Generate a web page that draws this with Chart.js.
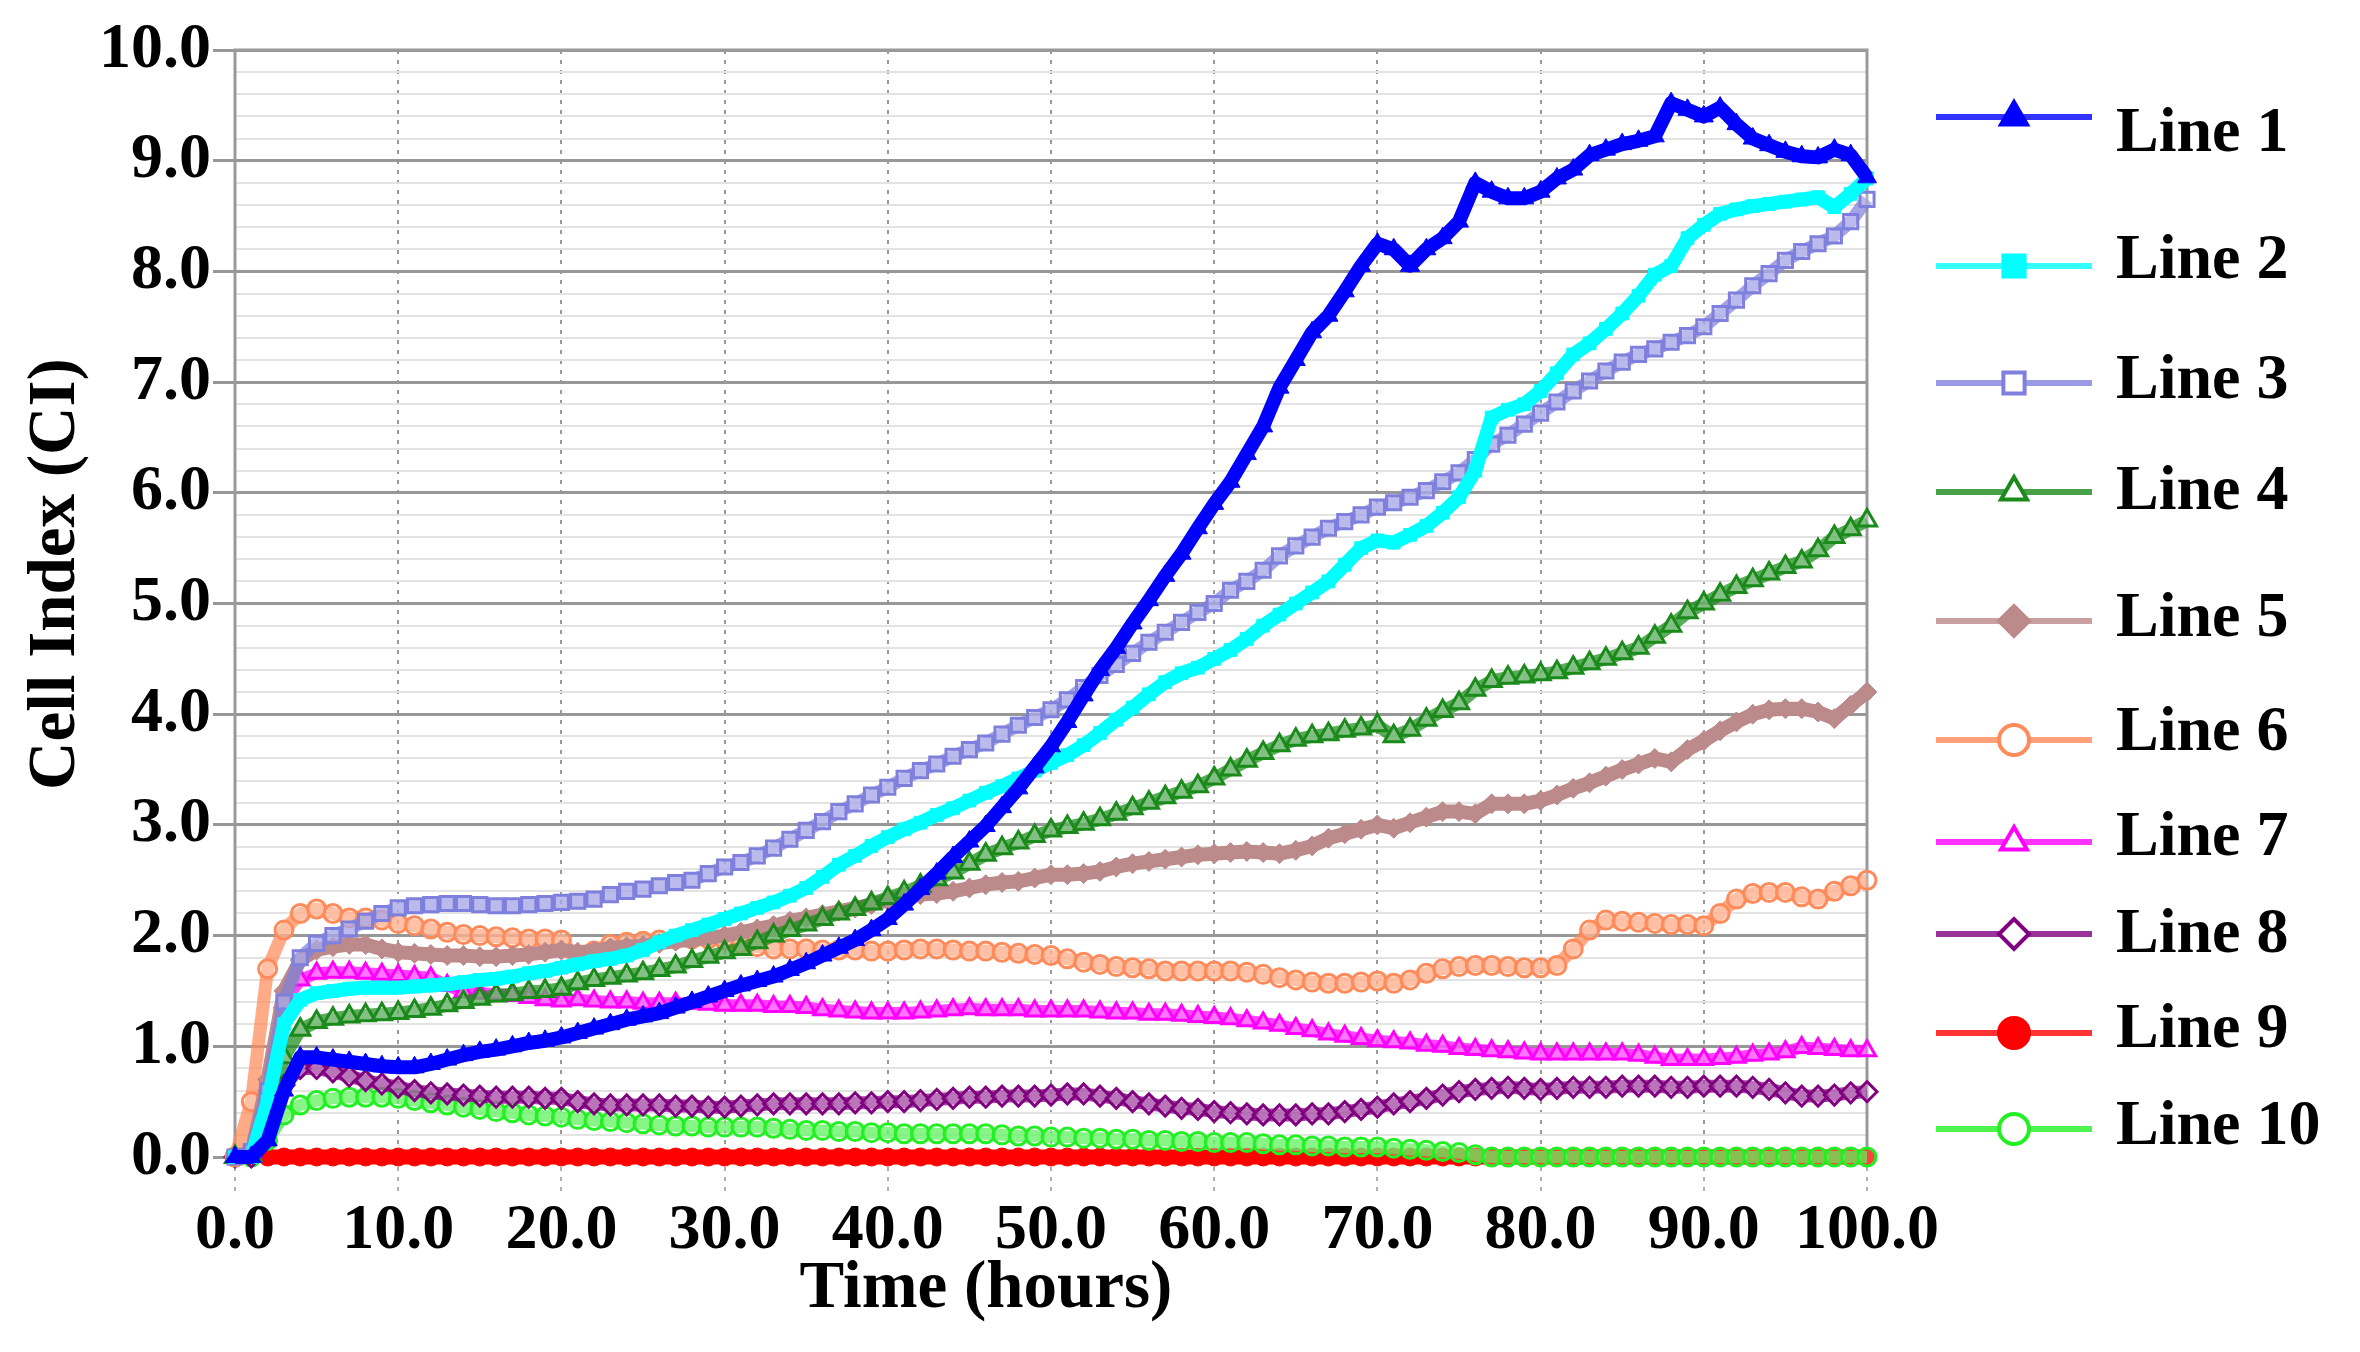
<!DOCTYPE html>
<html>
<head>
<meta charset="utf-8">
<script src="https://cdn.jsdelivr.net/npm/chart.js@4.4.1/dist/chart.umd.min.js"></script>
<style>
html,body{margin:0;padding:0;background:#fff;}
#wrap{width:2360px;height:1352px;position:relative;}
</style>
</head>
<body>
<div id="wrap"><canvas id="c" width="2360" height="1352"></canvas></div>
<script>
// ---------------- DATA ----------------
const hours = [0,1,2,3,4,5,6,7,8,9,10,11,12,13,14,15,16,17,18,19,20,21,22,23,24,25,26,27,28,29,30,31,32,33,34,35,36,37,38,39,40,41,42,43,44,45,46,47,48,49,50,51,52,53,54,55,56,57,58,59,60,61,62,63,64,65,66,67,68,69,70,71,72,73,74,75,76,77,78,79,80,81,82,83,84,85,86,87,88,89,90,91,92,93,94,95,96,97,98,99,100];

const seriesNames = ['Line 1','Line 2','Line 3','Line 4','Line 5','Line 6','Line 7','Line 8','Line 9','Line 10'];
const xTitle = 'Time (hours)';
const yTitle = 'Cell Index (CI)';

const line1 = [0,0,0.15,0.6,0.9,0.9,0.88,0.86,0.84,0.82,
 0.81,0.81,0.84,0.88,0.92,0.95,0.97,1.0,1.03,1.05,
 1.08,1.12,1.16,1.2,1.24,1.27,1.3,1.35,1.4,1.45,
 1.5,1.55,1.59,1.63,1.69,1.75,1.82,1.89,1.96,2.05,
 2.15,2.28,2.42,2.56,2.71,2.85,2.99,3.16,3.33,3.52,
 3.71,3.93,4.17,4.4,4.6,4.82,5.03,5.25,5.45,5.68,
 5.9,6.1,6.35,6.6,6.95,7.2,7.45,7.6,7.82,8.05,
 8.25,8.2,8.05,8.2,8.3,8.45,8.8,8.72,8.66,8.66,
 8.72,8.84,8.92,9.05,9.1,9.15,9.18,9.22,9.52,9.46,
 9.4,9.48,9.33,9.2,9.14,9.08,9.04,9.03,9.1,9.05,
 8.85];

const line2 = [0,0,0.5,1.2,1.42,1.48,1.5,1.52,1.53,1.53,
 1.53,1.54,1.55,1.56,1.58,1.6,1.61,1.63,1.66,1.68,
 1.71,1.74,1.77,1.79,1.82,1.87,1.94,2.0,2.05,2.1,
 2.15,2.2,2.25,2.3,2.36,2.43,2.53,2.64,2.72,2.81,
 2.89,2.96,3.02,3.09,3.15,3.22,3.29,3.35,3.42,3.49,
 3.56,3.63,3.72,3.83,3.95,4.06,4.18,4.29,4.37,4.42,
 4.5,4.58,4.68,4.8,4.9,5.0,5.1,5.2,5.35,5.5,
 5.57,5.55,5.62,5.7,5.82,5.96,6.2,6.68,6.75,6.8,
 6.92,7.08,7.25,7.35,7.48,7.62,7.78,7.97,8.05,8.3,
 8.42,8.52,8.56,8.59,8.61,8.63,8.65,8.67,8.58,8.7,
 8.84];

const line3 = [0,0.05,0.6,1.4,1.8,1.93,2.0,2.06,2.13,2.2,
 2.25,2.27,2.28,2.29,2.29,2.28,2.27,2.27,2.28,2.29,
 2.3,2.31,2.33,2.37,2.4,2.42,2.45,2.48,2.5,2.56,
 2.62,2.66,2.72,2.79,2.87,2.95,3.03,3.12,3.19,3.27,
 3.34,3.42,3.49,3.55,3.62,3.68,3.74,3.82,3.9,3.97,
 4.04,4.13,4.24,4.35,4.45,4.55,4.65,4.74,4.83,4.92,
 5.0,5.12,5.2,5.3,5.43,5.52,5.6,5.68,5.74,5.8,
 5.87,5.91,5.96,6.02,6.1,6.18,6.3,6.44,6.52,6.62,
 6.72,6.82,6.92,7.01,7.1,7.18,7.25,7.3,7.36,7.42,
 7.5,7.62,7.74,7.87,7.98,8.1,8.18,8.25,8.32,8.45,
 8.65];

const line4 = [0,0.02,0.45,0.9,1.15,1.22,1.25,1.27,1.28,1.29,
 1.3,1.32,1.34,1.37,1.4,1.43,1.46,1.47,1.49,1.5,
 1.52,1.57,1.6,1.62,1.64,1.66,1.69,1.72,1.77,1.81,
 1.85,1.88,1.94,2.0,2.05,2.1,2.15,2.2,2.24,2.29,
 2.34,2.39,2.45,2.51,2.57,2.65,2.73,2.79,2.84,2.9,
 2.95,2.98,3.01,3.05,3.1,3.15,3.2,3.25,3.3,3.35,
 3.42,3.5,3.58,3.65,3.72,3.77,3.8,3.82,3.85,3.87,
 3.9,3.8,3.86,3.95,4.03,4.1,4.22,4.3,4.33,4.34,
 4.36,4.38,4.42,4.46,4.5,4.55,4.6,4.7,4.8,4.92,
 5.0,5.08,5.15,5.21,5.27,5.33,5.38,5.48,5.6,5.67,
 5.75];

const line5 = [0,0.05,0.7,1.5,1.78,1.87,1.9,1.92,1.92,1.88,
 1.85,1.84,1.83,1.82,1.82,1.81,1.81,1.82,1.83,1.85,
 1.87,1.85,1.86,1.89,1.9,1.91,1.93,1.95,1.96,1.98,
 2.0,2.03,2.06,2.09,2.13,2.16,2.19,2.22,2.25,2.28,
 2.32,2.35,2.37,2.38,2.4,2.43,2.46,2.48,2.49,2.52,
 2.55,2.55,2.56,2.58,2.62,2.65,2.67,2.69,2.71,2.73,
 2.74,2.75,2.76,2.75,2.74,2.77,2.81,2.88,2.92,2.96,
 3.0,2.97,3.02,3.07,3.12,3.12,3.1,3.19,3.19,3.19,
 3.22,3.27,3.33,3.38,3.44,3.5,3.55,3.6,3.57,3.68,
 3.76,3.85,3.93,4.0,4.04,4.05,4.05,4.02,3.96,4.08,
 4.2];

const line6 = [0,0.5,1.7,2.05,2.2,2.24,2.2,2.16,2.16,2.14,
 2.11,2.09,2.06,2.03,2.01,2.0,1.99,1.98,1.97,1.97,
 1.96,1.78,1.86,1.92,1.94,1.95,1.96,1.97,1.97,1.97,
 1.96,1.93,1.9,1.88,1.88,1.88,1.87,1.87,1.87,1.86,
 1.86,1.87,1.88,1.88,1.87,1.86,1.86,1.85,1.84,1.83,
 1.82,1.79,1.76,1.74,1.72,1.71,1.7,1.68,1.68,1.68,
 1.68,1.68,1.67,1.65,1.62,1.6,1.58,1.57,1.57,1.58,
 1.59,1.57,1.6,1.66,1.7,1.72,1.73,1.73,1.72,1.71,
 1.71,1.73,1.88,2.05,2.14,2.13,2.12,2.11,2.1,2.1,
 2.09,2.2,2.33,2.38,2.39,2.39,2.35,2.33,2.4,2.45,
 2.5];

const line7 = [0,0.05,0.6,1.4,1.6,1.66,1.67,1.67,1.66,1.65,
 1.64,1.63,1.62,1.55,1.49,1.48,1.47,1.46,1.44,1.42,
 1.41,1.42,1.41,1.4,1.4,1.39,1.39,1.39,1.39,1.38,
 1.37,1.37,1.37,1.36,1.36,1.35,1.33,1.32,1.31,1.3,
 1.3,1.3,1.31,1.32,1.33,1.34,1.33,1.33,1.33,1.32,
 1.32,1.32,1.32,1.31,1.3,1.3,1.29,1.29,1.28,1.27,
 1.26,1.25,1.23,1.21,1.19,1.16,1.14,1.11,1.09,1.07,
 1.05,1.04,1.03,1.01,1.0,0.98,0.97,0.96,0.95,0.94,
 0.93,0.93,0.93,0.93,0.93,0.93,0.92,0.9,0.88,0.88,
 0.88,0.89,0.9,0.92,0.93,0.95,0.99,0.98,0.97,0.96,
 0.96];

const line8 = [0,0,0.3,0.65,0.8,0.8,0.77,0.73,0.69,0.66,
 0.63,0.6,0.58,0.57,0.56,0.55,0.54,0.54,0.54,0.53,
 0.53,0.5,0.48,0.47,0.47,0.47,0.47,0.46,0.46,0.45,
 0.45,0.46,0.47,0.48,0.48,0.48,0.48,0.48,0.49,0.49,
 0.5,0.5,0.51,0.52,0.53,0.54,0.54,0.55,0.55,0.55,
 0.56,0.57,0.57,0.55,0.53,0.5,0.48,0.46,0.44,0.43,
 0.41,0.4,0.39,0.38,0.38,0.38,0.39,0.39,0.41,0.43,
 0.45,0.48,0.5,0.53,0.56,0.59,0.61,0.62,0.63,0.62,
 0.61,0.62,0.63,0.63,0.63,0.64,0.64,0.64,0.63,0.63,
 0.64,0.64,0.64,0.63,0.61,0.58,0.55,0.55,0.56,0.58,
 0.59];

const line9 = [null,null,0,0,0,0,0,0,0,0,
 0,0,0,0,0,0,0,0,0,0,
 0,0,0,0,0,0,0,0,0,0,
 0,0,0,0,0,0,0,0,0,0,
 0,0,0,0,0,0,0,0,0,0,
 0,0,0,0,0,0,0,0,0,0,
 0,0,0,0,0,0,0,0,0,0,
 0,0,0,0,0,0,0,0,0,0,
 0,0,0,0,0,0,0,0,0,0,
 0,0,0,0,0,0,0,0,0,0,
 0];

const line10 = [0,0,0.15,0.38,0.47,0.51,0.53,0.54,0.54,0.54,
 0.53,0.51,0.49,0.47,0.45,0.43,0.41,0.4,0.38,0.37,
 0.36,0.34,0.33,0.32,0.31,0.3,0.29,0.28,0.28,0.27,
 0.27,0.27,0.27,0.26,0.25,0.24,0.24,0.23,0.23,0.22,
 0.22,0.21,0.21,0.21,0.21,0.21,0.21,0.2,0.19,0.19,
 0.18,0.18,0.17,0.17,0.16,0.16,0.15,0.15,0.14,0.14,
 0.13,0.13,0.13,0.12,0.11,0.11,0.1,0.1,0.09,0.09,
 0.09,0.08,0.07,0.06,0.05,0.04,0.02,0,0,0,
 0,0,0,0,0,0,0,0,0,0,
 0,0,0,0,0,0,0,0,0,0,
 0];

const seriesValues = [line1,line2,line3,line4,line5,line6,line7,line8,line9,line10];

// ---------------- STYLE ----------------
const seriesColors = ['#0000ff','#00ffff','#7f7fdd','#1a8a1a','#bc8a8a','#ff8a5a','#ff00ff','#800080','#ff0000','#22f022'];
const pointStyles  = ['triangle','rect','rect','triangle','rectRot','circle','triangle','rectRot','circle','circle'];
const filledMarks  = [true,true,false,false,true,false,false,false,true,false];
const markRadius   = [11,9,10,11,10,9,10,10,9,9];
const lineWidths   = [14,14,13,13,14,13,12,13,15,12];
const drawOrder    = [0,1,2,3,4,5,6,7,8,7.5];

const FONT = '"Liberation Serif", "Times New Roman", serif';
const isMajor = v => Math.abs(v - Math.round(v)) < 1e-6;
const withAlpha = (hex, a) => hex + Math.round(a * 255).toString(16).padStart(2, '0');

const datasets = seriesNames.map((name, i) => ({
  label: name,
  data: hours.map((h, k) => ({x: h, y: seriesValues[i][k]})),
  borderColor: filledMarks[i] ? seriesColors[i] : withAlpha(seriesColors[i], 0.72),
  backgroundColor: seriesColors[i],
  borderWidth: lineWidths[i],
  borderJoinStyle: 'round',
  pointStyle: pointStyles[i],
  pointRadius: markRadius[i],
  pointBorderWidth: filledMarks[i] ? 1 : 3,
  pointBorderColor: seriesColors[i],
  pointBackgroundColor: filledMarks[i] ? seriesColors[i] : 'rgba(255,255,255,0.25)',
  tension: 0,
  spanGaps: false,
  clip: false,
  order: drawOrder[i]
}));

// legend / title layout (pixel positions on the canvas)
const LEGEND_TEXT_Y = [134, 261, 381, 492, 619, 733, 838, 935, 1030, 1127];
const LEGEND_LINE_Y = [117, 266, 383, 492, 621, 740, 842, 934, 1033, 1129];
const LEGEND_X0 = 1936, LEGEND_X1 = 2092, LEGEND_TX = 2116;
const XTITLE_SHIFT = -65, XTITLE_Y = 1290;
const YTITLE_X = 57, YTITLE_Y = 574;

const framePlugin = {
  id: 'frame',
  beforeDatasetsDraw(chart) {
    const {ctx, chartArea: a} = chart;
    ctx.save();
    ctx.strokeStyle = '#9a9a9a';
    ctx.lineWidth = 3;
    ctx.strokeRect(a.left, a.top, a.right - a.left, a.bottom - a.top);
    ctx.restore();
  }
};

const textPlugin = {
  id: 'texts',
  afterDraw(chart) {
    const ctx = chart.ctx;
    const a = chart.chartArea;
    ctx.save();
    ctx.fillStyle = '#000';
    ctx.font = 'bold 67px ' + FONT;
    ctx.textAlign = 'center';
    ctx.textBaseline = 'middle';
    ctx.fillText(xTitle, (a.left + a.right) / 2 + XTITLE_SHIFT, XTITLE_Y);
    ctx.save();
    ctx.translate(YTITLE_X, YTITLE_Y);
    ctx.rotate(-Math.PI / 2);
    ctx.fillText(yTitle, 0, 0);
    ctx.restore();
    chart.data.datasets.forEach((ds, i) => {
      const ly = LEGEND_LINE_Y[i];
      ctx.strokeStyle = seriesColors[i];
      ctx.globalAlpha = 0.8;
      ctx.lineWidth = 6;
      ctx.beginPath();
      ctx.moveTo(LEGEND_X0, ly);
      ctx.lineTo(LEGEND_X1, ly);
      ctx.stroke();
      ctx.globalAlpha = 1;
      ctx.fillStyle = filledMarks[i] ? seriesColors[i] : '#ffffff';
      ctx.strokeStyle = seriesColors[i];
      ctx.lineWidth = 4;
      Chart.helpers.drawPoint(ctx, {pointStyle: pointStyles[i], radius: 15, rotation: 0, borderWidth: 4}, (LEGEND_X0 + LEGEND_X1) / 2, ly);
      ctx.fillStyle = '#000';
      ctx.font = 'bold 64px ' + FONT;
      ctx.textBaseline = 'middle';
      ctx.textAlign = 'left';
      ctx.fillText(seriesNames[i], LEGEND_TX, LEGEND_TEXT_Y[i]);
    });
    ctx.restore();
  }
};

new Chart(document.getElementById('c'), {
  type: 'line',
  data: {datasets},
  options: {
    responsive: false,
    animation: false,
    devicePixelRatio: 1,
    layout: {padding: {top: 50, right: 493, left: 0, bottom: 0}},
    plugins: {legend: {display: false}, tooltip: {enabled: false}},
    scales: {
      x: {
        type: 'linear', min: 0, max: 100,
        ticks: {
          stepSize: 10, autoSkip: false, maxRotation: 0, padding: 2,
          color: '#000',
          font: {family: FONT, size: 64, weight: 'bold'},
          callback: v => Number(v).toFixed(1)
        },
        grid: {color: '#9a9a9a', lineWidth: 2, tickLength: 34, tickColor: '#b0b0b0', tickBorderDash: [4, 6]},
        border: {display: false, dash: [4, 6]},
        afterFit(s) { s.height = 195; }
      },
      y: {
        min: 0, max: 10,
        ticks: {
          stepSize: 0.2, autoSkip: false, padding: 2,
          color: '#000',
          font: {family: FONT, size: 64, weight: 'bold'},
          callback: v => isMajor(v) ? Number(v).toFixed(1) : ''
        },
        grid: {
          color: c => isMajor(c.tick.value) ? '#979797' : '#e3e3e3',
          lineWidth: c => isMajor(c.tick.value) ? 3 : 2,
          tickColor: c => isMajor(c.tick.value) ? '#979797' : 'rgba(0,0,0,0)',
          tickLength: 22
        },
        border: {display: false},
        afterFit(s) { s.width = 235; }
      }
    }
  },
  plugins: [framePlugin, textPlugin]
});
</script>
</body>
</html>
